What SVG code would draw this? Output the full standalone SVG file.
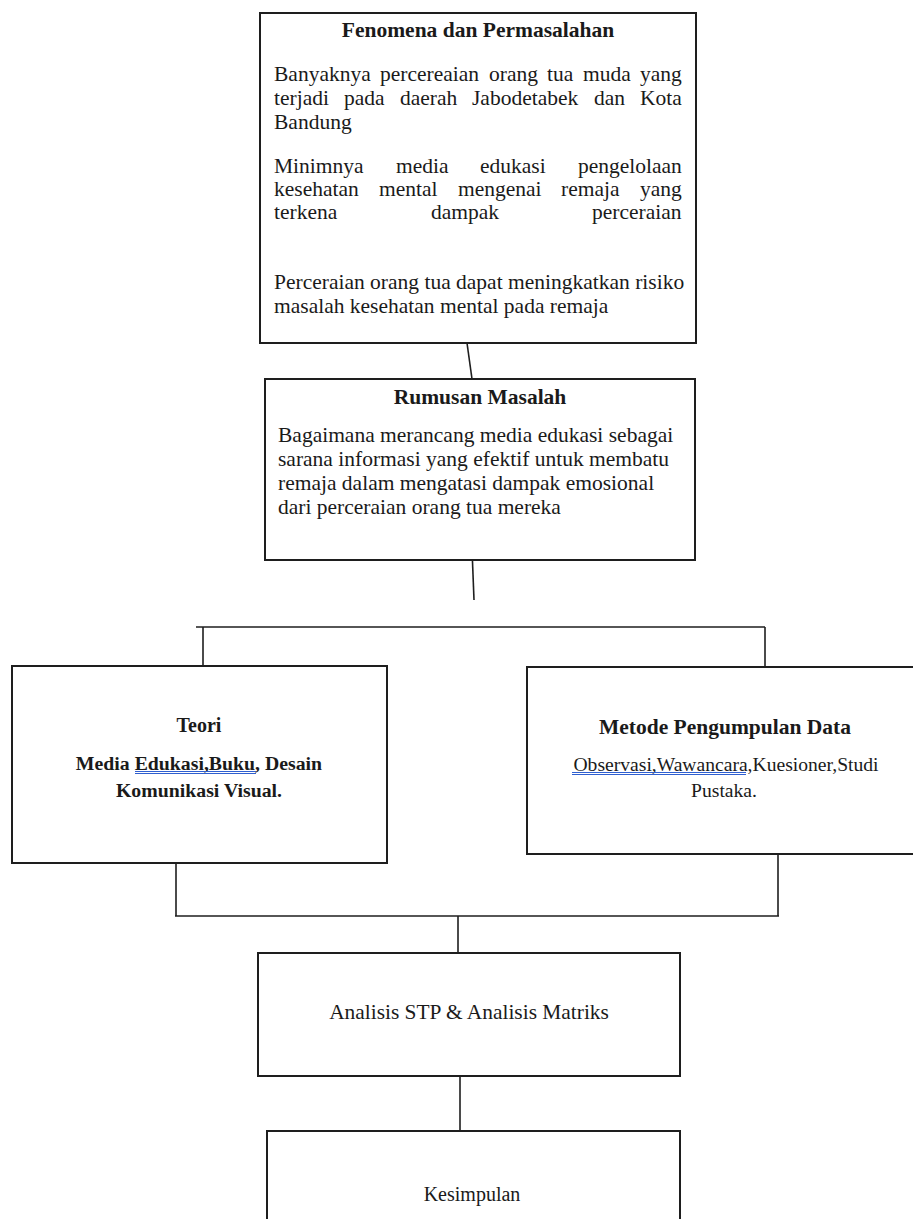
<svg xmlns="http://www.w3.org/2000/svg" width="913" height="1219" viewBox="0 0 913 1219">
<style>
.box{fill:#fff;stroke:#1e1e1e;stroke-width:2}
.ln{fill:none;stroke:#1e1e1e;stroke-width:1.6}
.t{font-family:"Liberation Serif","Times New Roman",serif;font-size:21.5px;fill:#1a1a1a}
.b{font-weight:bold}
.c{text-anchor:middle}
.ul{stroke:#2f5fd0;stroke-width:1;fill:none}
</style>
<rect width="913" height="1219" fill="#fff"/>
<g id="connectors">
<line class="ln" x1="467" y1="343" x2="472" y2="379"/>
<line class="ln" x1="472" y1="549" x2="474" y2="600"/>
<line class="ln" x1="196" y1="627" x2="765" y2="627"/>
<line class="ln" x1="203" y1="627" x2="203" y2="672"/>
<line class="ln" x1="765" y1="627" x2="765" y2="675"/>
<line class="ln" x1="176" y1="863" x2="176" y2="916"/>
<line class="ln" x1="778" y1="854" x2="778" y2="916"/>
<line class="ln" x1="175" y1="916" x2="779" y2="916"/>
<line class="ln" x1="458" y1="916" x2="458" y2="953"/>
<line class="ln" x1="460" y1="1076" x2="460" y2="1131"/>
</g>
<g id="fenomena">
<rect class="box" x="260" y="13" width="436" height="330"/>
<text class="t b c" x="478" y="37">Fenomena dan Permasalahan</text>
<text class="t" y="81"><tspan x="274">Banyaknya</tspan><tspan x="380">percereaian</tspan><tspan x="489">orang</tspan><tspan x="547">tua</tspan><tspan x="583">muda</tspan><tspan x="640">yang</tspan></text>
<text class="t" y="105"><tspan x="274">terjadi</tspan><tspan x="344">pada</tspan><tspan x="400">daerah</tspan><tspan x="472">Jabodetabek</tspan><tspan x="594">dan</tspan><tspan x="640">Kota</tspan></text>
<text class="t" x="274" y="129">Bandung</text>
<text class="t" y="173"><tspan x="274">Minimnya</tspan><tspan x="396">media</tspan><tspan x="480">edukasi</tspan><tspan x="578">pengelolaan</tspan></text>
<text class="t" y="196"><tspan x="274">kesehatan</tspan><tspan x="379">mental</tspan><tspan x="458">mengenai</tspan><tspan x="561">remaja</tspan><tspan x="640">yang</tspan></text>
<text class="t" y="219"><tspan x="274">terkena</tspan><tspan x="431">dampak</tspan><tspan x="592">perceraian</tspan></text>
<text class="t" x="274" y="289">Perceraian orang tua dapat meningkatkan risiko</text>
<text class="t" x="274" y="313">masalah kesehatan mental pada remaja</text>
</g>
<g id="rumusan">
<rect class="box" x="265" y="379" width="430" height="181"/>
<text class="t b c" x="480" y="404">Rumusan Masalah</text>
<text class="t" x="278" y="442">Bagaimana merancang media edukasi sebagai</text>
<text class="t" x="278" y="466">sarana informasi yang efektif untuk membatu</text>
<text class="t" x="278" y="490">remaja dalam mengatasi dampak emosional</text>
<text class="t" x="278" y="514">dari perceraian orang tua mereka</text>
</g>
<g id="teori">
<rect class="box" x="12" y="666" width="375" height="197"/>
<text class="t b c" x="199" y="732" style="font-size:20px">Teori</text>
<text class="t b c" x="199" y="770" style="font-size:19.8px">Media Edukasi,Buku, Desain</text>
<text class="t b c" x="199" y="797" style="font-size:19.8px">Komunikasi Visual.</text>
<line class="ul" x1="135" y1="771.5" x2="256" y2="771.5"/>
<line class="ul" x1="135" y1="773.5" x2="256" y2="773.5"/>
</g>
<g id="metode">
<rect class="box" x="527" y="667" width="396" height="187"/>
<text class="t b c" x="725" y="734">Metode Pengumpulan Data</text>
<text class="t c" x="726" y="771" style="font-size:19.6px">Observasi,Wawancara,Kuesioner,Studi</text>
<text class="t c" x="724" y="797" style="font-size:19.6px">Pustaka.</text>
<line class="ul" x1="572" y1="772.5" x2="746" y2="772.5"/>
<line class="ul" x1="572" y1="774.5" x2="746" y2="774.5"/>
</g>
<g id="analisis">
<rect class="box" x="258" y="953" width="422" height="123"/>
<text class="t c" x="469" y="1019" style="font-size:21.4px">Analisis STP &amp; Analisis Matriks</text>
</g>
<g id="kesimpulan">
<rect class="box" x="267" y="1131" width="413" height="110"/>
<text class="t c" x="472" y="1201" style="font-size:20px">Kesimpulan</text>
</g>
</svg>
